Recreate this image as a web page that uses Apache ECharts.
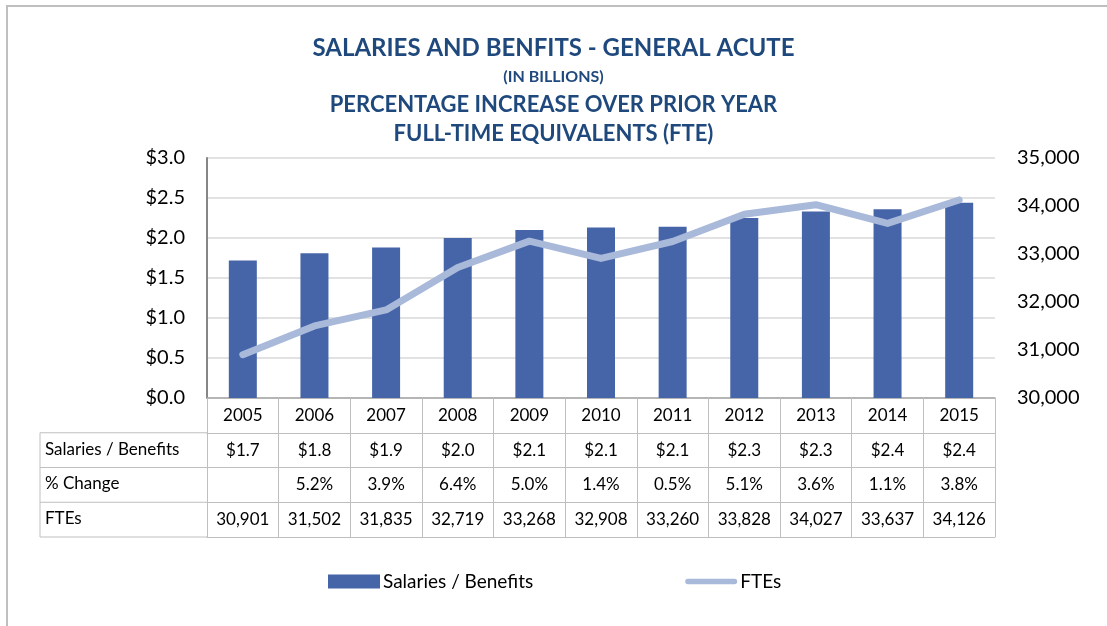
<!DOCTYPE html>
<html>
<head>
<meta charset="utf-8">
<script src="https://cdn.jsdelivr.net/npm/echarts@6/dist/echarts.min.js"></script>
<style>
  html, body { margin: 0; padding: 0; background: #fff; }
  #main { width: 1107px; height: 626px; }
</style>
</head>
<body>
<div id="main"></div>
<script>
// data
var years = ['2005', '2006', '2007', '2008', '2009', '2010', '2011', '2012', '2013', '2014', '2015'];
var salaries = [1.72, 1.81, 1.88, 2.00, 2.10, 2.13, 2.14, 2.25, 2.33, 2.36, 2.44];   // $ billions
var pctChange = ['', '5.2%', '3.9%', '6.4%', '5.0%', '1.4%', '0.5%', '5.1%', '3.6%', '1.1%', '3.8%'];
var ftes = [30901, 31502, 31835, 32719, 33268, 32908, 33260, 33828, 34027, 33637, 34126];
var rowNames = ['Salaries / Benefits', '% Change', 'FTEs'];

var salaryLabels = salaries.map(function (v) { return '$' + v.toFixed(1); });
var fteLabels = ftes.map(function (v) { return v.toLocaleString('en-US'); });

var font = 'Lato';
var gridColor = '#bfbfbf';
var plotLeft = 207, plotRight = 995, plotBottom = 398, rowH = 34.75;

var myChart = echarts.init(document.getElementById('main'));

// row axes for the table under the chart
function rowAxis(data, idx, showLabel) {
  return {
    type: 'category',
    gridIndex: 0,
    position: 'bottom',
    offset: idx * rowH,
    data: data,
    axisLine: { show: true, lineStyle: { color: gridColor, width: 1 } },
    axisTick: { show: false },
    axisLabel: { show: showLabel, interval: 0, margin: 9, color: '#000', fontSize: 17, fontFamily: font },
    splitLine: { show: false }
  };
}

var graphics = [
  { type: 'rect', shape: { x: 7, y: 6, width: 1200, height: 700 }, style: { fill: 'none', stroke: '#bfbfbf', lineWidth: 2 }, silent: true }
];
// left column of the table
for (var r = 1; r <= 4; r++) {
  graphics.push({ type: 'line', shape: { x1: 40, y1: plotBottom + r * rowH, x2: plotLeft, y2: plotBottom + r * rowH }, style: { stroke: gridColor, lineWidth: 1 } });
}
graphics.push({ type: 'line', shape: { x1: 40, y1: plotBottom + rowH, x2: 40, y2: plotBottom + 4 * rowH }, style: { stroke: gridColor, lineWidth: 1 } });
rowNames.forEach(function (n, i) {
  graphics.push({
    type: 'text', left: 45, top: plotBottom + (i + 1) * rowH + 8,
    style: { text: n, fill: '#000', font: '17px ' + font }
  });
});

var titleColor = '#1f497d';
var option = {
  backgroundColor: '#fff',
  title: [
    { text: 'SALARIES AND BENFITS - GENERAL ACUTE', left: 'center', top: 31, textStyle: { color: titleColor, fontSize: 24, fontWeight: 'bold', fontFamily: font } },
    { text: '(IN BILLIONS)', left: 'center', top: 64, textStyle: { color: titleColor, fontSize: 16, fontWeight: 'bold', fontFamily: font } },
    { text: 'PERCENTAGE INCREASE OVER PRIOR YEAR', left: 'center', top: 89, textStyle: { color: titleColor, fontSize: 22, fontWeight: 'bold', fontFamily: font } },
    { text: 'FULL-TIME EQUIVALENTS (FTE)', left: 'center', top: 118, textStyle: { color: titleColor, fontSize: 22, fontWeight: 'bold', fontFamily: font } }
  ],
  legend: {
    left: 323,
    top: 567,
    itemWidth: 52,
    itemHeight: 14,
    itemGap: 152,
    textStyle: { fontSize: 19, color: '#000', fontFamily: font, padding: [0, 0, 0, -2] },
    data: [
      { name: 'Salaries / Benefits', icon: 'rect' },
      { name: 'FTEs', icon: 'path://M3,0 L55,0 A3,3 0 0 1 55,6 L3,6 A3,3 0 0 1 3,0 Z', itemStyle: { color: '#a9b9da' } }
    ]
  },
  grid: { left: plotLeft, right: 1107 - plotRight, top: 158, bottom: 626 - plotBottom },
  xAxis: [
    {
      type: 'category',
      data: years,
      axisLine: { show: true, lineStyle: { color: '#a6a6a6', width: 1.5 } },
      axisTick: { show: true, alignWithLabel: false, interval: 0, length: 4 * rowH, lineStyle: { color: gridColor, width: 1 } },
      axisLabel: { interval: 0, margin: 9, color: '#000', fontSize: 17, fontFamily: font }
    },
    rowAxis(salaryLabels, 1, true),
    rowAxis(pctChange, 2, true),
    rowAxis(fteLabels, 3, true),
    rowAxis(years, 4, false)
  ],
  yAxis: [
    {
      type: 'value',
      min: 0, max: 3, interval: 0.5,
      axisLine: { show: true, lineStyle: { color: '#868686', width: 2 } },
      axisTick: { show: false },
      axisLabel: { margin: 22, color: '#000', fontSize: 20, fontFamily: font, formatter: function (v) { return '$' + v.toFixed(1); } },
      splitLine: { lineStyle: { color: '#d9d9d9', width: 1.5 } }
    },
    {
      type: 'value',
      min: 30000, max: 35000, interval: 1000,
      axisLine: { show: false },
      axisTick: { show: false },
      axisLabel: { margin: 22, color: '#000', fontSize: 20, fontFamily: font, formatter: function (v) { return v.toLocaleString('en-US'); } },
      splitLine: { show: false }
    }
  ],
  series: [
    {
      name: 'Salaries / Benefits',
      type: 'bar',
      data: salaries,
      barWidth: 28,
      itemStyle: { color: '#4664a8' }
    },
    {
      name: 'FTEs',
      type: 'line',
      yAxisIndex: 1,
      data: ftes,
      symbol: 'none',
      lineStyle: { color: '#a9b9da', width: 7, cap: 'round', join: 'round' },
      itemStyle: { color: '#a9b9da' }
    }
  ],
  graphic: graphics,
  animation: false
};

myChart.setOption(option);
</script>
</body>
</html>
